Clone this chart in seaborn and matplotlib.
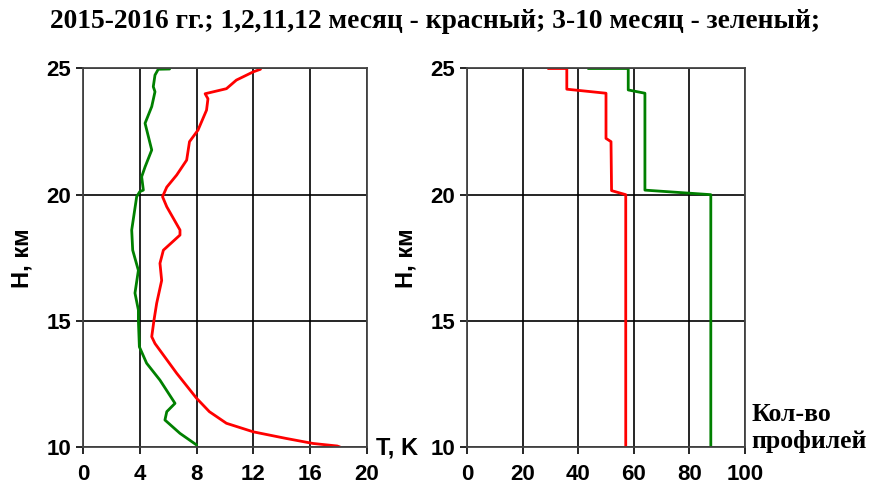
import matplotlib
matplotlib.use("Agg")
import matplotlib.pyplot as plt
import seaborn as sns
import pandas as pd

# Temperature spread profiles, T (K) vs altitude H (km)
h_winter = [10.0, 10.04, 10.14, 10.34, 10.6, 10.94, 11.4, 11.93, 12.92, 14.1, 14.37, 15.03,
            15.7, 16.6, 17.28, 17.8, 18.4, 18.6, 19.52, 19.92, 20.3, 20.78, 21.37, 22.1,
            22.56, 23.35, 23.8, 24.0, 24.2, 24.54, 24.87, 24.97]
t_winter = [18.1, 17.9, 16.2, 14.3, 12.0, 10.1, 8.9, 8.0, 6.6, 5.07, 4.84, 5.0,
            5.19, 5.54, 5.42, 5.66, 6.83, 6.83, 5.9, 5.6, 5.9, 6.6, 7.3, 7.5,
            8.1, 8.7, 8.8, 8.6, 10.1, 10.8, 12.0, 12.5]

h_summer = [10.08, 10.54, 11.07, 11.4, 11.73, 12.65, 13.32, 13.97, 15.03, 15.43, 16.1, 17.0,
            17.8, 18.6, 19.92, 20.12, 20.18, 20.71, 21.1, 21.77, 22.83, 23.49, 24.08, 24.28,
            24.74, 24.97, 24.98]
t_summer = [8.0, 6.83, 5.77, 5.9, 6.48, 5.42, 4.48, 3.97, 3.9, 3.9, 3.66, 3.9,
            3.5, 3.43, 3.78, 4.0, 4.25, 4.13, 4.37, 4.84, 4.37, 4.84, 5.07, 4.95,
            5.07, 5.3, 6.1]

# Number of profiles per level
h_count_winter = [10.0, 20.0, 20.16, 22.1, 22.23, 24.02, 24.18, 25.0, 25.0]
n_count_winter = [57.1, 57.1, 52.0, 51.8, 50.0, 50.0, 35.9, 35.9, 29.2]
h_count_summer = [10.0, 20.0, 20.18, 24.02, 24.15, 25.0, 25.0]
n_count_summer = [87.7, 87.7, 64.0, 64.0, 58.0, 58.0, 43.6]

t_ticks = [0, 4, 8, 12, 16, 20]
n_ticks = [0, 20, 40, 60, 80, 100]
h_ticks = [10, 15, 20, 25]

title = "2015-2016 гг.; 1,2,11,12 месяц - красный; 3-10 месяц - зеленый;"

RED = "#ff0000"
GREEN = "#008000"
SERIF = ["Liberation Serif", "DejaVu Serif"]

sns.set_theme(style="white")
plt.rcParams["font.family"] = ["Liberation Sans", "DejaVu Sans"]

fig = plt.figure(figsize=(8.74, 4.83), dpi=100)
ax1 = fig.add_axes([83 / 874, 36 / 483, 284 / 874, 378.5 / 483])
ax2 = fig.add_axes([467 / 874, 36 / 483, 278 / 874, 378.5 / 483])

df_w = pd.DataFrame({"T": t_winter, "H": h_winter})
df_s = pd.DataFrame({"T": t_summer, "H": h_summer})
df_cw = pd.DataFrame({"N": n_count_winter, "H": h_count_winter})
df_cs = pd.DataFrame({"N": n_count_summer, "H": h_count_summer})

sns.lineplot(data=df_w, x="T", y="H", sort=False, estimator=None, color=RED, lw=2, ax=ax1)
sns.lineplot(data=df_s, x="T", y="H", sort=False, estimator=None, color=GREEN, lw=2, ax=ax1)
sns.lineplot(data=df_cw, x="N", y="H", sort=False, estimator=None, color=RED, lw=2, ax=ax2)
sns.lineplot(data=df_cs, x="N", y="H", sort=False, estimator=None, color=GREEN, lw=2, ax=ax2)

for ax, xt, xmax in ((ax1, t_ticks, 20), (ax2, n_ticks, 100)):
    ax.set_xlim(0, xmax)
    ax.set_ylim(10, 25)
    ax.set_xticks(xt)
    ax.set_yticks(h_ticks)
    ax.set_xticklabels([str(v) for v in xt])
    ax.set_yticklabels([str(v) for v in h_ticks])
    ax.grid(True, color="black", lw=1.2)
    ax.set_axisbelow(True)
    for s in ax.spines.values():
        s.set_color("#444444")
        s.set_linewidth(1.3)
    ax.tick_params(axis="both", which="both", direction="out", length=5, width=1.2,
                   color="black", labelsize=16, labelcolor="black",
                   bottom=True, left=True)
    ax.tick_params(axis="x", pad=7)
    ax.tick_params(axis="y", pad=3.5)
    for lab in ax.get_xticklabels() + ax.get_yticklabels():
        lab.set_fontweight("bold")
    ax.set_xlabel("")
    ax.set_ylabel("")

fig.text(22 / 874, 1 - 258 / 483, "H, км", rotation=90, ha="center", va="center",
         fontsize=17, fontweight="bold", color="black")
fig.text(406 / 874, 1 - 258 / 483, "H, км", rotation=90, ha="center", va="center",
         fontsize=17, fontweight="bold", color="black")
fig.text(397 / 874, 1 - 448 / 483, "T, K", ha="center", va="center", fontsize=17,
         fontweight="bold", color="black")
fig.text(751 / 874, 1 - 428 / 483, "Кол-во\nпрофилей", ha="left", va="center",
         fontsize=18.5, fontweight="bold", family=SERIF, color="black", linespacing=1.2)
fig.text(435 / 874, 1 - 22 / 483, title, ha="center", va="center", fontsize=19.8,
         fontweight="bold", family=SERIF, color="black")

fig.savefig("out.png", dpi=100, facecolor="white")
